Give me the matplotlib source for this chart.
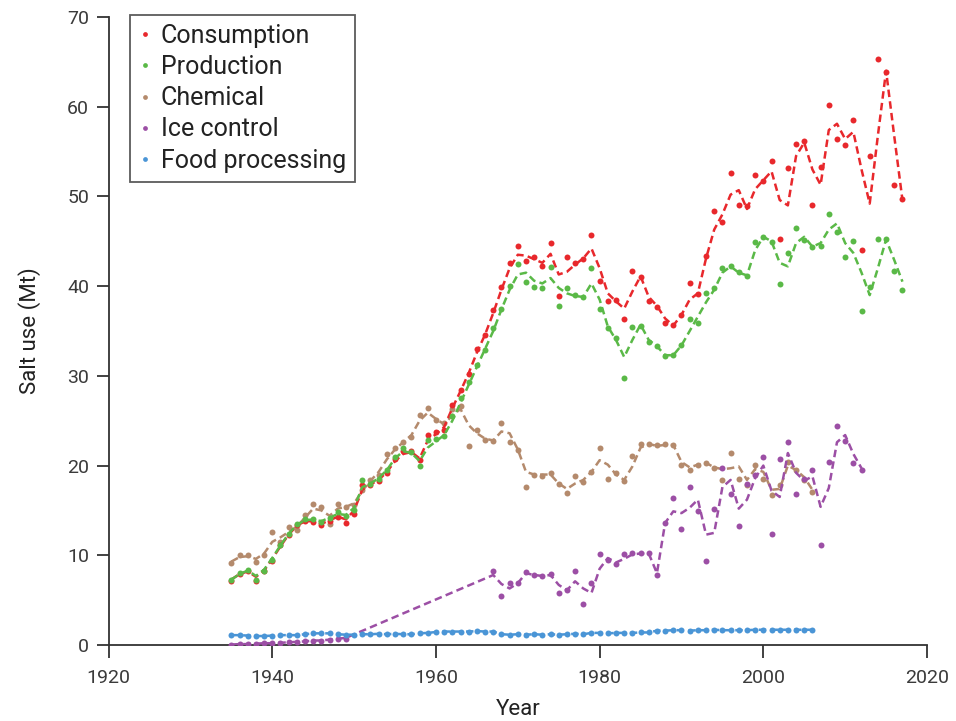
import matplotlib
matplotlib.use("Agg")
import matplotlib.pyplot as plt

plt.rcParams['font.family'] = ['Roboto', 'DejaVu Sans']

# ---------------- data ----------------
years_main = list(range(1935, 2018))          # consumption / production
years_short = list(range(1935, 2007))         # chemical / food processing
ice_years = list(range(1935, 1950)) + list(range(1967, 2013))

consumption = [
    7.1, 7.9, 8.3, 7.1, 8.2, 9.4, 11.1, 12.3, 13.4, 13.8,
    13.7, 13.4, 13.8, 14.3, 13.6, 14.6, 17.8, 17.8, 18.3, 19.2,
    20.7, 21.6, 21.6, 20.6, 23.4, 23.7, 24.0, 26.8, 28.4, 30.2,
    33.0, 34.6, 37.3, 39.9, 42.6, 44.5, 42.8, 43.2, 42.2, 44.8,
    38.9, 43.2, 42.6, 43.0, 45.7, 40.6, 38.3, 38.4, 36.3, 41.7,
    41.0, 38.3, 37.7, 35.9, 35.7, 36.8, 40.3, 39.1, 43.4, 48.4,
    47.1, 52.6, 49.0, 48.9, 52.4, 51.7, 54.0, 45.2, 53.2, 55.8,
    56.2, 49.1, 53.3, 60.2, 56.4, 55.7, 58.5, 44.0, 54.5, 65.3,
    63.9, 51.3, 49.7]
consumption_trend = [
    7.3, 7.9, 8.2, 7.6, 8.3, 9.6, 11.0, 12.3, 13.3, 13.8,
    13.8, 13.5, 13.9, 14.3, 14.0, 15.0, 17.3, 17.9, 18.4, 19.3,
    20.5, 21.3, 21.5, 20.8, 22.8, 23.5, 24.3, 26.4, 28.3, 30.3,
    32.6, 34.6, 37.0, 39.6, 42.0, 43.5, 43.4, 43.0, 42.6, 43.6,
    41.3, 41.6, 42.4, 43.1, 44.2, 42.0, 39.2, 38.3, 37.5, 39.4,
    41.1, 38.8, 37.8, 36.4, 35.6, 36.8, 38.5, 39.2, 43.1, 46.3,
    48.0, 50.2, 50.7, 48.6, 50.8, 51.8, 52.8, 49.6, 49.0, 54.5,
    56.0, 53.0, 51.3, 57.4, 58.1, 56.4, 57.2, 53.0, 49.2, 56.8,
    64.0, 56.7, 49.6]

production = [
    7.2, 8.0, 8.4, 7.2, 8.3, 9.5, 11.2, 12.4, 13.5, 14.0,
    14.0, 13.7, 14.2, 14.8, 14.4, 15.0, 18.4, 17.9, 18.5, 19.5,
    21.0, 22.0, 21.5, 19.9, 22.9, 23.0, 23.3, 25.5, 27.5, 29.3,
    31.2, 32.9, 35.3, 37.5, 40.0, 42.5, 40.5, 39.9, 39.8, 42.1,
    37.8, 39.8, 39.0, 38.8, 42.0, 37.5, 35.3, 34.2, 29.8, 35.5,
    35.6, 33.8, 33.3, 32.2, 32.3, 33.4, 36.3, 35.9, 39.2, 39.8,
    42.0, 42.2, 41.6, 41.1, 44.9, 45.5, 44.9, 40.2, 43.7, 46.5,
    45.1, 44.4, 44.5, 48.0, 46.0, 43.3, 45.0, 37.2, 39.9, 45.3,
    45.2, 41.7, 39.6]
production_trend = [
    7.3, 7.9, 8.3, 7.7, 8.4, 9.7, 11.1, 12.4, 13.4, 13.9,
    14.0, 13.8, 14.2, 14.6, 14.5, 15.3, 17.6, 18.0, 18.6, 19.5,
    20.8, 21.6, 21.4, 20.5, 22.0, 22.7, 23.4, 25.0, 27.0, 29.0,
    31.0, 33.0, 35.0, 37.4, 39.6, 41.3, 41.5, 40.6, 40.3, 40.9,
    39.8, 39.2, 38.9, 38.8, 40.3, 38.5, 35.5, 34.0, 32.1, 34.0,
    35.7, 34.0, 33.3, 32.3, 32.3, 33.4, 35.0, 36.6, 38.2, 39.6,
    41.5, 42.2, 41.5, 41.2, 44.0, 45.5, 45.0, 42.6, 42.2, 44.8,
    45.5, 44.4, 44.8, 46.3, 47.0, 44.8, 43.7, 41.5, 39.0, 42.0,
    45.2, 42.9, 40.5]

chemical = [
    9.1, 10.0, 10.0, 9.3, 10.0, 12.6, 11.5, 13.2, 12.8, 14.5,
    15.7, 15.4, 13.5, 15.7, 15.4, 15.6, 17.3, 18.4, 19.0, 21.3,
    22.0, 22.6, 23.2, 25.6, 26.4, 25.1, 24.8, 26.3, 26.6, 22.2,
    24.0, 22.9, 22.7, 24.8, 22.6, 21.7, 17.6, 19.0, 18.8, 19.2,
    17.9, 16.9, 18.8, 18.2, 19.3, 22.0, 18.5, 19.2, 18.3, 21.1,
    22.4, 22.4, 22.3, 22.4, 22.3, 20.1, 19.5, 20.1, 20.3, 19.7,
    18.4, 21.4, 18.5, 17.8, 20.1, 18.5, 16.7, 17.8, 20.4, 19.5,
    18.4, 17.0]
chemical_trend = [
    9.3, 9.8, 9.9, 9.6, 10.2, 11.5, 12.0, 12.6, 13.2, 14.2,
    15.2, 15.0, 14.4, 15.2, 15.4, 15.8, 17.2, 18.3, 19.3, 20.7,
    21.8, 22.6, 23.4, 25.0, 25.9, 25.2, 24.6, 25.6, 26.3, 24.5,
    23.6, 23.0, 22.8, 23.8, 23.6, 21.8, 19.3, 19.0, 19.0, 19.0,
    18.0, 17.4, 18.0, 18.4, 19.3, 20.6, 20.1, 19.0, 18.4, 19.9,
    22.0, 22.4, 22.2, 22.3, 22.3, 20.4, 19.8, 20.1, 20.3, 19.8,
    19.6, 19.7, 19.9, 18.4, 19.6, 19.3, 17.3, 17.4, 20.0, 19.5,
    18.7, 17.3]

ice_control = [
    0.05, 0.1, 0.1, 0.15, 0.2, 0.2, 0.25, 0.3, 0.35, 0.4, 0.5, 0.5, 0.6, 0.7, 0.7,
    8.3, 5.5, 6.9, 6.9, 8.1, 7.8, 7.7, 7.9, 5.8, 6.1,
    8.2, 4.6, 6.9, 10.1, 9.5, 9.0, 10.1, 10.3, 10.2, 10.2,
    7.8, 13.6, 16.4, 12.9, 17.6, 14.9, 9.4, 15.2, 19.7, 16.8,
    13.3, 18.0, 19.0, 20.9, 12.4, 20.7, 22.6, 16.8, 18.5, 19.5,
    11.1, 20.4, 24.4, 22.7, 20.3, 19.5]
ice_control_trend = [
    0.05, 0.1, 0.1, 0.15, 0.2, 0.2, 0.25, 0.3, 0.35, 0.4, 0.5, 0.5, 0.6, 0.7, 0.8,
    7.8, 6.8, 6.3, 6.9, 8.0, 7.8, 7.7, 7.8, 6.7, 6.1,
    7.1, 6.3, 5.8, 8.5, 9.7, 9.2, 9.6, 10.1, 10.2, 10.2,
    8.0, 13.6, 14.9, 14.7, 15.3, 16.2, 12.3, 12.5, 17.6, 18.4,
    15.2, 16.2, 18.6, 20.0, 17.2, 16.5, 21.4, 19.2, 18.3, 18.8,
    15.4, 17.5, 22.6, 23.4, 21.3, 19.7]

food_processing = [
    1.1, 1.1, 1.05, 1.0, 1.0, 1.05, 1.1, 1.1, 1.1, 1.2,
    1.3, 1.3, 1.3, 1.2, 1.15, 1.15, 1.2, 1.2, 1.25, 1.2,
    1.25, 1.2, 1.2, 1.3, 1.35, 1.45, 1.5, 1.5, 1.5, 1.5,
    1.55, 1.5, 1.5, 1.2, 1.15, 1.2, 1.15, 1.2, 1.15, 1.2,
    1.15, 1.2, 1.25, 1.2, 1.35, 1.35, 1.3, 1.35, 1.35, 1.35,
    1.4, 1.4, 1.6, 1.6, 1.65, 1.65, 1.6, 1.65, 1.65, 1.7,
    1.65, 1.65, 1.65, 1.65, 1.7, 1.7, 1.7, 1.7, 1.7, 1.7,
    1.7, 1.7]

labels = ["Consumption", "Production", "Chemical", "Ice control", "Food processing"]
colors = ["#e8282c", "#5ab947", "#b48a6c", "#9c4fa5", "#4a95d6"]
x_ticks = [1920, 1940, 1960, 1980, 2000, 2020]
y_ticks = [0, 10, 20, 30, 40, 50, 60, 70]

# ---------------- figure ----------------
fig = plt.figure(figsize=(9.56, 7.21), dpi=100)
ax = fig.add_axes([108.6 / 956, 1 - 645 / 721, (927 - 108.6) / 956, (645 - 17) / 721])

series = [
    (years_main, consumption, consumption_trend, 0),
    (years_main, production, production_trend, 1),
    (years_short, chemical, chemical_trend, 2),
    (ice_years, ice_control, ice_control_trend, 3),
    (years_short, food_processing, food_processing, 4),
]
zorders = {0: 4, 1: 5, 2: 2, 3: 3, 4: 6}
handles = [None] * 5
for xs, dots, trend, i in series:
    c = colors[i]
    ax.plot(xs, trend, color=c, lw=1.8, dashes=(3, 1.7), zorder=zorders[i])
    h, = ax.plot(xs, dots, ls='none', marker='o', ms=4.3, mew=0, color=c,
                 zorder=zorders[i] + 0.5, label=labels[i])
    handles[i] = h

ax.set_xlim(1920, 2020)
ax.set_ylim(0, 70)
ax.set_xticks(x_ticks)
ax.set_yticks(y_ticks)
for s in ["top", "right"]:
    ax.spines[s].set_visible(False)
for s in ["left", "bottom"]:
    ax.spines[s].set_color("#333333")
    ax.spines[s].set_linewidth(1.3)
ax.tick_params(direction='out', length=9, width=1.3, color="#333333",
               labelsize=14, labelcolor="#3a3a3a")
ax.tick_params(axis='x', pad=8)
ax.tick_params(axis='y', pad=5)
ax.set_xlabel("Year", fontsize=16, color="#222222", labelpad=9)
ax.set_ylabel("Salt use (Mt)", fontsize=16, color="#222222", labelpad=19)

leg = ax.legend(handles=handles, labels=labels, loc='upper left',
                bbox_to_anchor=(130 / 956, 1 - 15 / 721), bbox_transform=fig.transFigure,
                borderaxespad=0, fontsize=18, frameon=True, fancybox=False,
                handlelength=0.5, handletextpad=0.38, labelspacing=0.29,
                borderpad=0.35, markerscale=0.8)
leg.get_frame().set_edgecolor("#333333")
leg.get_frame().set_linewidth(1.3)
for t in leg.get_texts():
    t.set_color("#222222")

fig.savefig("out.png", dpi=100)
